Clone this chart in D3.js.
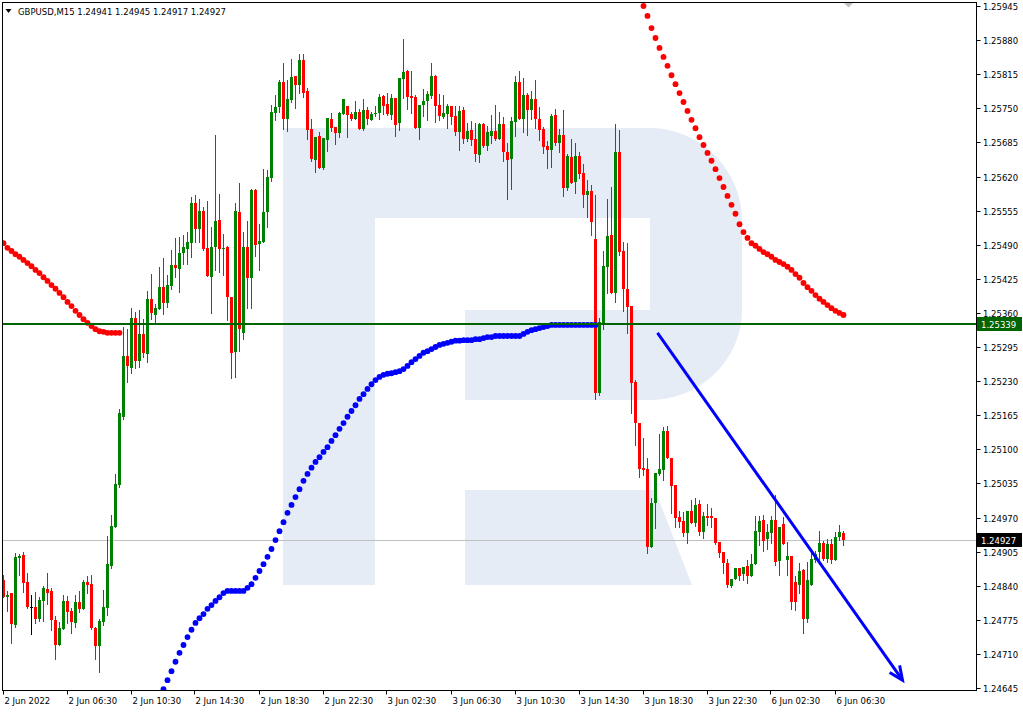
<!DOCTYPE html>
<html><head><meta charset="utf-8">
<script src="https://cdnjs.cloudflare.com/ajax/libs/d3/7.8.5/d3.min.js"></script>
<style>body{margin:0;background:#fff}svg{display:block}text{font-family:"DejaVu Sans",sans-serif}</style>
</head><body><svg id="c" width="1023" height="712"></svg>
<script>
const symbol="GBPUSD,M15";
const opens=[1.24851,1.24818,1.24826,1.24765,1.24893,1.24899,1.24847,1.24799,1.24799,1.24776,1.24811,1.24834,1.24830,1.24775,1.24727,1.24757,1.24811,1.24792,1.24769,1.24809,1.24796,1.24847,1.24843,1.24759,1.24725,1.24771,1.24797,1.24878,1.24952,1.25032,
1.25162,1.25278,1.25255,1.25350,1.25268,1.25320,1.25282,1.25387,1.25356,1.25367,1.25409,1.25379,1.25411,1.25451,1.25444,1.25474,1.25482,1.25493,1.25569,1.25520,
1.25554,1.25484,1.25428,1.25485,1.25537,1.25482,1.25486,1.25390,1.25286,1.25552,1.25322,1.25486,1.25427,1.25594,1.25491,1.25495,1.25552,1.25617,1.25741,1.25752,
1.25800,1.25730,1.25766,1.25811,1.25794,1.25842,1.25783,1.25711,1.25651,1.25697,1.25636,1.25690,1.25730,1.25714,1.25703,1.25739,1.25754,1.25739,1.25730,1.25743,
1.25711,1.25747,1.25728,1.25739,1.25741,1.25773,1.25758,1.25737,1.25770,1.25722,1.25806,1.25821,1.25773,1.25771,1.25712,1.25756,1.25764,1.25773,1.25811,1.25756,
1.25733,1.25739,1.25754,1.25735,1.25705,1.25747,1.25691,1.25709,1.25691,1.25661,1.25720,1.25678,1.25697,1.25707,1.25691,1.25720,1.25667,1.25653,1.25724,1.25800,
1.25730,1.25775,1.25747,1.25768,1.25730,1.25711,1.25678,1.25671,1.25737,1.25684,1.25699,1.25598,1.25657,1.25610,1.25659,1.25627,1.25585,1.25592,1.25501,1.25207,
1.25341,1.25448,1.25508,1.25398,1.25667,1.25478,1.25405,1.25373,1.25228,1.25150,1.25064,1.25062,1.24914,1.24998,1.25053,1.25060,1.25135,1.25083,1.25032,1.24971,
1.24963,1.24940,1.24982,1.24959,1.24996,1.24942,1.24973,1.24973,1.24969,1.24923,1.24904,1.24883,1.24839,1.24853,1.24874,1.24862,1.24878,1.24858,1.24881,1.24942,
1.24965,1.24929,1.24940,1.24965,1.24887,1.24957,1.24889,1.24897,1.24847,1.24841,1.24870,1.24776,1.24841,1.24889,1.24904,1.24921,1.24891,1.24919,1.24889,1.24933,1.24941];
const highs=[1.24860,1.24830,1.24827,1.24902,1.24900,1.24904,1.24864,1.24822,1.24828,1.24818,1.24839,1.24864,1.24836,1.24782,1.24771,1.24822,1.24820,1.24797,1.24822,1.24830,1.24851,1.24858,1.24860,1.24761,1.24776,1.24832,1.24935,1.24975,1.25053,1.25177,
1.25333,1.25329,1.25369,1.25362,1.25366,1.25348,1.25402,1.25434,1.25377,1.25447,1.25465,1.25432,1.25480,1.25503,1.25505,1.25508,1.25514,1.25581,1.25585,1.25577,
1.25562,1.25573,1.25524,1.25699,1.25587,1.25510,1.25488,1.25391,1.25570,1.25608,1.25514,1.25535,1.25596,1.25596,1.25530,1.25634,1.25632,1.25756,1.25775,1.25804,
1.25836,1.25804,1.25844,1.25812,1.25853,1.25853,1.25789,1.25730,1.25695,1.25705,1.25693,1.25732,1.25741,1.25714,1.25743,1.25768,1.25754,1.25743,1.25764,1.25748,
1.25768,1.25752,1.25743,1.25754,1.25777,1.25775,1.25779,1.25777,1.25770,1.25808,1.25882,1.25823,1.25821,1.25775,1.25756,1.25787,1.25783,1.25836,1.25813,1.25777,
1.25775,1.25758,1.25755,1.25754,1.25754,1.25752,1.25722,1.25726,1.25722,1.25722,1.25722,1.25716,1.25737,1.25756,1.25743,1.25733,1.25684,1.25733,1.25811,1.25821,
1.25808,1.25779,1.25783,1.25804,1.25752,1.25714,1.25688,1.25739,1.25748,1.25711,1.25747,1.25663,1.25691,1.25684,1.25667,1.25644,1.25613,1.25604,1.25585,1.25350,
1.25478,1.25577,1.25600,1.25720,1.25709,1.25495,1.25493,1.25373,1.25232,1.25150,1.25121,1.25083,1.25007,1.25055,1.25129,1.25142,1.25144,1.25083,1.25032,1.24982,
1.24980,1.24982,1.25003,1.25007,1.25003,1.24980,1.24996,1.24988,1.24969,1.24923,1.24904,1.24891,1.24853,1.24874,1.24874,1.24876,1.24889,1.24900,1.24973,1.24973,
1.24975,1.24957,1.24973,1.25013,1.24952,1.24971,1.24923,1.24897,1.24858,1.24883,1.24872,1.24885,1.24906,1.24906,1.24944,1.24925,1.24929,1.24929,1.24942,1.24956,1.24945];
const lows=[1.24818,1.24792,1.24731,1.24761,1.24860,1.24828,1.24797,1.24748,1.24769,1.24773,1.24773,1.24805,1.24756,1.24700,1.24727,1.24757,1.24769,1.24750,1.24761,1.24790,1.24796,1.24826,1.24757,1.24700,1.24675,1.24765,1.24784,1.24874,1.24951,1.25028,
1.25158,1.25228,1.25245,1.25255,1.25257,1.25276,1.25266,1.25348,1.25341,1.25367,1.25358,1.25371,1.25405,1.25428,1.25400,1.25453,1.25453,1.25467,1.25495,1.25495,
1.25480,1.25430,1.25360,1.25442,1.25438,1.25432,1.25346,1.25236,1.25238,1.25287,1.25310,1.25369,1.25369,1.25468,1.25442,1.25495,1.25524,1.25611,1.25728,1.25743,
1.25711,1.25706,1.25762,1.25751,1.25779,1.25771,1.25691,1.25649,1.25629,1.25636,1.25634,1.25669,1.25707,1.25681,1.25695,1.25739,1.25695,1.25728,1.25730,1.25711,
1.25709,1.25720,1.25728,1.25735,1.25730,1.25739,1.25737,1.25730,1.25697,1.25709,1.25770,1.25749,1.25741,1.25712,1.25691,1.25735,1.25728,1.25770,1.25724,1.25728,
1.25732,1.25712,1.25720,1.25699,1.25671,1.25684,1.25688,1.25680,1.25649,1.25648,1.25676,1.25671,1.25684,1.25690,1.25691,1.25649,1.25577,1.25596,1.25697,1.25730,
1.25705,1.25699,1.25730,1.25712,1.25690,1.25665,1.25636,1.25638,1.25680,1.25667,1.25583,1.25594,1.25608,1.25589,1.25617,1.25562,1.25542,1.25508,1.25196,1.25203,
1.25329,1.25398,1.25398,1.25381,1.25470,1.25364,1.25322,1.25169,1.25108,1.25047,1.25051,1.24902,1.24914,1.24950,1.25051,1.25041,1.25083,1.24978,1.24952,1.24952,
1.24935,1.24921,1.24959,1.24954,1.24937,1.24931,1.24955,1.24952,1.24919,1.24895,1.24864,1.24838,1.24838,1.24853,1.24851,1.24851,1.24845,1.24858,1.24881,1.24917,
1.24906,1.24910,1.24921,1.24879,1.24860,1.24919,1.24860,1.24796,1.24794,1.24826,1.24750,1.24771,1.24841,1.24885,1.24889,1.24889,1.24885,1.24883,1.24889,1.24927,1.24917];
const closes=[1.24819,1.24822,1.24767,1.24895,1.24897,1.24845,1.24799,1.24799,1.24776,1.24813,1.24836,1.24826,1.24775,1.24727,1.24759,1.24811,1.24790,1.24771,1.24809,1.24796,1.24847,1.24841,1.24759,1.24725,1.24773,1.24799,1.24881,1.24954,1.25034,1.25169,
1.25278,1.25259,1.25350,1.25268,1.25320,1.25284,1.25387,1.25360,1.25369,1.25409,1.25379,1.25413,1.25451,1.25446,1.25474,1.25485,1.25495,1.25569,1.25520,1.25554,
1.25482,1.25431,1.25485,1.25535,1.25482,1.25484,1.25390,1.25284,1.25554,1.25329,1.25486,1.25427,1.25594,1.25489,1.25497,1.25552,1.25619,1.25743,1.25752,1.25800,
1.25730,1.25768,1.25809,1.25794,1.25842,1.25779,1.25709,1.25653,1.25695,1.25636,1.25693,1.25732,1.25713,1.25703,1.25741,1.25768,1.25737,1.25730,1.25743,1.25711,
1.25747,1.25730,1.25739,1.25741,1.25771,1.25754,1.25739,1.25770,1.25718,1.25808,1.25819,1.25771,1.25770,1.25712,1.25756,1.25764,1.25777,1.25811,1.25754,1.25735,
1.25741,1.25754,1.25733,1.25705,1.25745,1.25691,1.25707,1.25690,1.25663,1.25720,1.25678,1.25705,1.25707,1.25691,1.25720,1.25667,1.25651,1.25726,1.25800,1.25730,
1.25775,1.25747,1.25768,1.25730,1.25709,1.25676,1.25671,1.25735,1.25684,1.25699,1.25598,1.25659,1.25608,1.25659,1.25625,1.25585,1.25592,1.25533,1.25207,1.25342,
1.25449,1.25507,1.25398,1.25667,1.25476,1.25405,1.25371,1.25226,1.25150,1.25062,1.25060,1.24914,1.24998,1.25055,1.25062,1.25135,1.25083,1.25030,1.24969,1.24961,
1.24940,1.24982,1.24959,1.24994,1.24942,1.24972,1.24970,1.24969,1.24921,1.24902,1.24883,1.24841,1.24853,1.24874,1.24858,1.24876,1.24858,1.24881,1.24944,1.24963,
1.24925,1.24942,1.24965,1.24885,1.24952,1.24919,1.24897,1.24809,1.24809,1.24868,1.24776,1.24851,1.24891,1.24900,1.24921,1.24891,1.24919,1.24889,1.24933,1.24942,1.24927];

// Parabolic SAR dots (value per bar), with first bar index of each run
const sarRed1Start=0;
const sarRed1=[1.25493,1.25484,1.25478,1.25472,1.25467,1.25461,1.25455,1.25449,1.25442,1.25436,1.25428,1.25421,1.25413,1.25406,1.25398,1.25390,1.25381,1.25373,1.25364,1.25356,1.25348,1.25341,1.25335,1.25329,1.25325,1.25324,1.25322,1.25322,1.25322,1.25322];
const sarBlueStart=40;
const sarBlue=[1.24643,1.24660,1.24677,1.24695,1.24712,1.24727,1.24742,1.24756,1.24769,1.24778,
1.24786,1.24796,1.24803,1.24811,1.24818,1.24826,1.24830,1.24830,1.24830,1.24830,
1.24830,1.24836,1.24843,1.24855,1.24868,1.24881,1.24895,1.24910,1.24927,1.24944,
1.24961,1.24979,1.24994,1.25009,1.25024,1.25040,1.25053,1.25065,1.25076,1.25085,
1.25095,1.25104,1.25116,1.25127,1.25139,1.25150,1.25162,1.25173,1.25184,1.25196,
1.25205,1.25215,1.25224,1.25232,1.25238,1.25242,1.25244,1.25245,1.25247,1.25249,
1.25253,1.25259,1.25266,1.25272,1.25278,1.25284,1.25287,1.25291,1.25295,1.25299,
1.25301,1.25303,1.25305,1.25307,1.25307,1.25308,1.25308,1.25308,1.25310,1.25310,
1.25312,1.25314,1.25314,1.25316,1.25316,1.25316,1.25316,1.25316,1.25316,1.25316,
1.25320,1.25324,1.25327,1.25329,1.25331,1.25333,1.25335,1.25337,1.25337,1.25337,
1.25337,1.25337,1.25337,1.25337,1.25337,1.25337,1.25337,1.25337,1.25337];
const sarRed2Start=160;
const sarRed2=[1.25945,1.25926,1.25903,1.25884,1.25865,1.25848,1.25831,1.25813,1.25796,1.25779,1.25762,1.25745,1.25728,1.25712,1.25695,1.25680,1.25665,1.25650,1.25634,1.25617,1.25600,1.25583,1.25566,1.25549,1.25529,1.25514,1.25503,1.25493,1.25488,1.25482,1.25476,1.25472,1.25467,1.25461,1.25457,1.25453,1.25448,1.25442,1.25434,1.25427,1.25417,1.25409,1.25402,1.25394,1.25387,1.25381,1.25375,1.25369,1.25364,1.25360,1.25356];

const levelPrice=1.25339;
const trendFrom=[163.5,1.25322];
const trendTo=[224.75,1.24660];

const priceTicks=["1.24645","1.24710","1.24775","1.24840","1.24905","1.24970","1.25035","1.25100","1.25165","1.25230","1.25295","1.25360","1.25425","1.25490","1.25555","1.25620","1.25685","1.25750","1.25815","1.25880","1.25945"];
const timeLabels=["2 Jun 2022","2 Jun 06:30","2 Jun 10:30","2 Jun 14:30","2 Jun 18:30","2 Jun 22:30","3 Jun 02:30","3 Jun 06:30","3 Jun 10:30","3 Jun 14:30","3 Jun 18:30","3 Jun 22:30","6 Jun 02:30","6 Jun 06:30"];
const timeLabelBars=[0,16,32,48,64,80,96,112,128,144,160,176,192,208];

const svg=d3.select("#c");
const PL=2.5,PT=2.5,PR=976.5,PB=690.5;
const x=d3.scaleLinear().domain([0,210]).range([3.5,843.5]);
const y=d3.scaleLinear().domain([1.24645,1.25945]).range([688,6]);
const n=opens.length;
const last=n-1;
const fmt=d3.format(".5f");

svg.append("rect").attr("width",1023).attr("height",712).attr("fill","#fff");
svg.append("defs").append("clipPath").attr("id","pc").append("rect")
  .attr("x",PL+0.5).attr("y",PT+0.5).attr("width",PR-PL-1).attr("height",PB-PT-1);

// watermark logo
const wm=svg.append("g").attr("fill","#e6ecf5");
wm.append("path").attr("fill-rule","evenodd").attr("d",
 "M283,128H650C700,128 742,170 742,220V310C742,360 700,400 650,400H465V585H283Z"+
 "M375,218H650V310H465V585H375Z");
wm.append("path").attr("d","M465,490H655L692,585H465Z");

const g=svg.append("g").attr("clip-path","url(#pc)");

// bid line
g.append("line").attr("x1",PL).attr("x2",PR).attr("y1",Math.round(y(closes[last]))+0.5).attr("y2",Math.round(y(closes[last]))+0.5)
 .attr("stroke","#c0c0c0").attr("stroke-width",1);

const bars=d3.range(n).map(i=>({i,o:opens[i],h:highs[i],l:lows[i],c:closes[i]}));
const col=d=>d.c>d.o?"#008000":(d.c<d.o?"#ff0000":"#000000");
g.selectAll("line.wick").data(bars).join("line").attr("class","wick")
 .attr("x1",d=>x(d.i)).attr("x2",d=>x(d.i))
 .attr("y1",d=>Math.round(y(d.h))).attr("y2",d=>Math.round(y(d.l))+1)
 .attr("stroke",col).attr("stroke-width",1).attr("shape-rendering","crispEdges");
g.selectAll("rect.body").data(bars).join("rect").attr("class","body")
 .attr("x",d=>x(d.i)-1.5).attr("width",3)
 .attr("y",d=>Math.round(y(Math.max(d.o,d.c))))
 .attr("height",d=>Math.max(1,Math.round(y(Math.min(d.o,d.c)))-Math.round(y(Math.max(d.o,d.c)))))
 .attr("fill",col).attr("shape-rendering","crispEdges");

function dots(arr,start,color){
  g.append("g").selectAll("circle").data(arr).join("circle")
   .attr("cx",(d,k)=>x(start+k)).attr("cy",d=>y(d)).attr("r",2.9).attr("fill",color);
}
dots(sarRed1,sarRed1Start,"#ff0000");
dots(sarBlue,sarBlueStart,"#0000ff");
dots(sarRed2,sarRed2Start,"#ff0000");

// level line
g.append("line").attr("x1",PL).attr("x2",PR).attr("y1",y(levelPrice)).attr("y2",y(levelPrice))
 .attr("stroke","#006400").attr("stroke-width",2);

// trend arrow
const ax1=x(trendFrom[0]),ay1=y(trendFrom[1]),ax2=x(trendTo[0]),ay2=y(trendTo[1]);
g.append("line").attr("x1",ax1).attr("y1",ay1).attr("x2",ax2).attr("y2",ay2)
 .attr("stroke","#0000ff").attr("stroke-width",3);
const ang=Math.atan2(ay2-ay1,ax2-ax1),L=15,sp=0.42;
g.append("path").attr("d",`M${ax2-L*Math.cos(ang-sp)},${ay2-L*Math.sin(ang-sp)}L${ax2},${ay2}L${ax2-L*Math.cos(ang+sp)},${ay2-L*Math.sin(ang+sp)}`)
 .attr("fill","none").attr("stroke","#0000ff").attr("stroke-width",3);

// frame
svg.append("rect").attr("x",PL).attr("y",PT).attr("width",PR-PL).attr("height",PB-PT)
 .attr("fill","none").attr("stroke","#000").attr("stroke-width",1);

// shift marker
svg.append("path").attr("d","M844,3H853L848.5,7.5Z").attr("fill","#c0c0c0");

// price axis
const pa=svg.append("g");
priceTicks.forEach(t=>{
  const yy=Math.round(y(+t))+0.5;
  pa.append("line").attr("x1",PR).attr("x2",PR+4).attr("y1",yy).attr("y2",yy).attr("stroke","#000");
  pa.append("text").attr("x",983).attr("y",yy+3.5).attr("font-size",8.5).attr("fill","#000").text(t);
});
function tag(price,bg){
  const yy=Math.round(y(price));
  pa.append("rect").attr("x",977).attr("y",yy-7).attr("width",45).attr("height",14).attr("fill",bg);
  pa.append("text").attr("x",981).attr("y",yy+3.5).attr("font-size",8.5).attr("fill","#fff").text(fmt(price));
}
tag(levelPrice,"#006400");
tag(closes[last],"#000000");

// time axis
const ta=svg.append("g");
timeLabelBars.forEach((b,k)=>{
  const xx=Math.round(x(b))-0.5;
  ta.append("line").attr("x1",xx).attr("x2",xx).attr("y1",PB).attr("y2",PB+4).attr("stroke","#000");
  ta.append("text").attr("x",xx+1).attr("y",704).attr("font-size",8.5).attr("fill","#000").text(timeLabels[k]);
});

// header
svg.append("path").attr("d","M5.5,9H11.5L8.5,13Z").attr("fill","#000");
svg.append("text").attr("x",18).attr("y",15).attr("font-size",8.5).attr("fill","#000")
 .text(`${symbol}  ${fmt(opens[last])} ${fmt(highs[last])} ${fmt(lows[last])} ${fmt(closes[last])}`);
</script></body></html>
